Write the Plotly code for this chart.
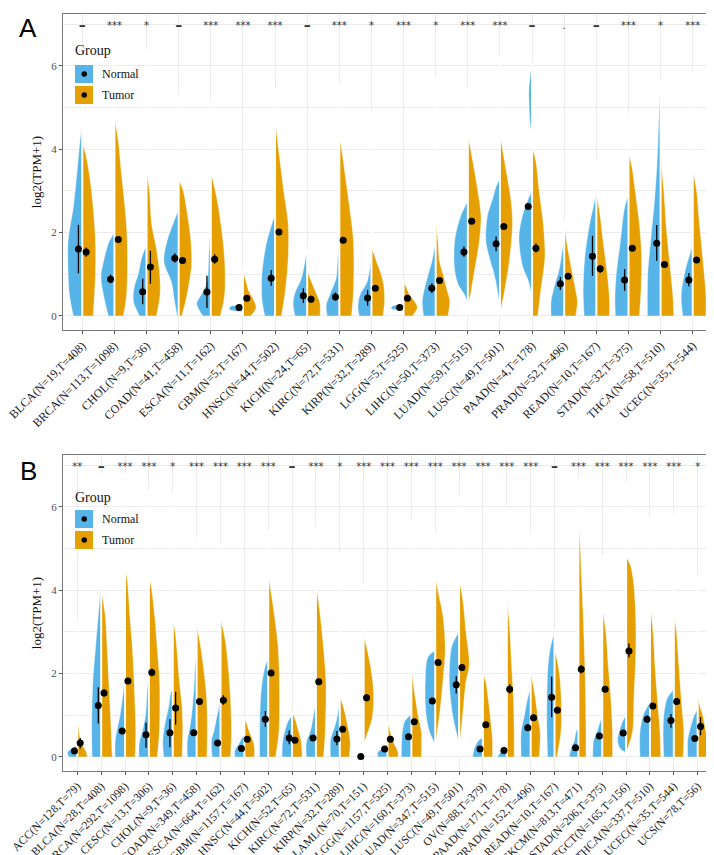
import plotly.graph_objects as go
from plotly.subplots import make_subplots

BLUE = "#56B4E9"
ORANGE = "#E69F00"
SERIF = "Liberation Serif, Times New Roman, serif"

# ---------------- Panel A data ----------------
A_labels = ["BLCA(N=19,T=408)", "BRCA(N=113,T=1098)", "CHOL(N=9,T=36)", "COAD(N=41,T=458)",
            "ESCA(N=11,T=162)", "GBM(N=5,T=167)", "HNSC(N=44,T=502)", "KICH(N=24,T=65)",
            "KIRC(N=72,T=531)", "KIRP(N=32,T=289)", "LGG(N=5,T=525)", "LIHC(N=50,T=373)",
            "LUAD(N=59,T=515)", "LUSC(N=49,T=501)", "PAAD(N=4,T=178)", "PRAD(N=52,T=496)",
            "READ(N=10,T=167)", "STAD(N=32,T=375)", "THCA(N=58,T=510)", "UCEC(N=35,T=544)"]
A_sig = ["−", "***", "*", "−", "***", "***", "***", "−", "***", "*",
         "***", "*", "***", "***", "−", ".", "−", "***", "*", "***"]
A_normal_mean = [1.60, 0.88, 0.58, 1.38, 0.57, 0.20, 0.90, 0.48, 0.45, 0.43, 0.20, 0.66, 1.53, 1.73, 2.62, 0.77, 1.43, 0.86, 1.74, 0.86]
A_normal_lo = [1.02, 0.78, 0.28, 1.28, 0.19, 0.18, 0.72, 0.31, 0.36, 0.24, 0.18, 0.55, 1.42, 1.55, 2.62, 0.62, 0.96, 0.60, 1.32, 0.71]
A_normal_hi = [2.18, 0.99, 0.89, 1.50, 0.96, 0.22, 1.10, 0.66, 0.56, 0.62, 0.22, 0.78, 1.66, 1.90, 2.62, 0.93, 1.92, 1.12, 2.18, 1.03]
A_tumor_mean = [1.53, 1.83, 1.17, 1.33, 1.36, 0.42, 2.01, 0.40, 1.81, 0.66, 0.42, 0.85, 2.27, 2.14, 1.62, 0.95, 1.13, 1.62, 1.23, 1.34]
A_tumor_lo = [1.42, 1.78, 0.77, 1.27, 1.25, 0.38, 1.94, 0.32, 1.74, 0.60, 0.38, 0.78, 2.20, 2.06, 1.52, 0.90, 1.03, 1.56, 1.16, 1.27]
A_tumor_hi = [1.64, 1.88, 1.56, 1.39, 1.48, 0.46, 2.08, 0.48, 1.88, 0.72, 0.46, 0.92, 2.34, 2.22, 1.74, 0.99, 1.22, 1.70, 1.30, 1.41]
# density profiles: (log2(TPM+1), half width)
A_normal_shape = [
    [(0, 0.28), (0.5, 0.40), (1.0, 0.44), (1.8, 0.44), (2.6, 0.28), (3.4, 0.17), (4.2, 0.07), (4.6, 0)],
    [(0, 0.19), (0.5, 0.34), (0.95, 0.42), (1.3, 0.34), (1.75, 0.18), (2.0, 0)],
    [(0, 0.22), (0.35, 0.41), (0.7, 0.38), (1.0, 0.26), (1.4, 0.15), (1.7, 0)],
    [(0, 0.05), (0.4, 0.14), (0.8, 0.22), (1.3, 0.46), (1.8, 0.36), (2.2, 0.18), (2.55, 0)],
    [(0, 0.25), (0.3, 0.44), (0.5, 0.30), (0.8, 0.12), (1.5, 0.06), (2.2, 0)],
    [(0.10, 0), (0.15, 0.42), (0.22, 0.40), (0.28, 0)],
    [(0, 0.32), (0.4, 0.41), (1.0, 0.41), (1.7, 0.28), (2.2, 0.10), (2.45, 0)],
    [(0, 0.38), (0.3, 0.44), (0.55, 0.38), (0.9, 0.18), (1.3, 0.07), (1.6, 0)],
    [(0, 0.38), (0.25, 0.41), (0.5, 0.30), (0.9, 0.10), (1.4, 0.05), (1.7, 0)],
    [(0, 0.38), (0.2, 0.42), (0.5, 0.36), (0.8, 0.14), (1.1, 0.06), (1.4, 0)],
    [(0.14, 0), (0.17, 0.38), (0.23, 0.36), (0.28, 0)],
    [(0, 0.38), (0.35, 0.42), (0.55, 0.38), (1.0, 0.23), (1.3, 0.12), (1.8, 0)],
    [(0.3, 0), (0.5, 0.10), (0.75, 0.30), (1.1, 0.41), (1.8, 0.41), (2.4, 0.22), (2.75, 0)],
    [(0.2, 0), (0.7, 0.10), (1.0, 0.18), (1.4, 0.33), (1.8, 0.44), (2.4, 0.39), (2.8, 0.23), (3.1, 0.12), (3.3, 0)],
    [(0.4, 0), (0.8, 0.10), (1.2, 0.30), (1.9, 0.41), (2.4, 0.30), (2.8, 0.12), (3.0, 0.02), (4.3, 0), (4.6, 0.06), (5.4, 0.10), (5.8, 0.05), (6.05, 0)],
    [(0, 0.41), (0.35, 0.41), (0.7, 0.31), (1.1, 0.16), (1.6, 0.05), (1.8, 0)],
    [(0, 0.38), (0.6, 0.41), (1.4, 0.36), (2.2, 0.21), (2.7, 0.07), (3.0, 0)],
    [(0, 0.41), (0.5, 0.42), (1.0, 0.38), (1.8, 0.25), (2.6, 0.12), (2.9, 0)],
    [(0, 0.41), (1.0, 0.40), (1.8, 0.31), (2.6, 0.21), (3.4, 0.13), (4.2, 0.08), (5.0, 0.04), (5.55, 0)],
    [(0, 0.31), (0.5, 0.36), (1.1, 0.23), (1.5, 0.08), (1.7, 0)],
]
A_tumor_shape = [
    [(0, 0.34), (1.0, 0.41), (1.8, 0.41), (2.6, 0.34), (3.4, 0.22), (3.9, 0.10), (4.15, 0)],
    [(0, 0.28), (0.5, 0.38), (1.8, 0.40), (2.6, 0.33), (3.4, 0.22), (4.2, 0.12), (4.75, 0)],
    [(0, 0.31), (0.5, 0.42), (1.0, 0.41), (1.6, 0.31), (2.2, 0.16), (3.0, 0.09), (3.47, 0)],
    [(0, 0.10), (0.5, 0.26), (1.2, 0.40), (1.8, 0.38), (2.5, 0.26), (3.0, 0.14), (3.27, 0)],
    [(0, 0.30), (0.5, 0.43), (1.2, 0.44), (1.8, 0.38), (2.6, 0.24), (3.0, 0.14), (3.45, 0)],
    [(0, 0.25), (0.2, 0.41), (0.4, 0.32), (0.6, 0.18), (0.9, 0.07), (1.07, 0)],
    [(0, 0.20), (0.6, 0.32), (1.4, 0.41), (2.2, 0.41), (3.0, 0.27), (3.8, 0.14), (4.7, 0)],
    [(0, 0.40), (0.3, 0.40), (0.55, 0.28), (0.8, 0.14), (1.1, 0)],
    [(0, 0.38), (0.6, 0.44), (1.8, 0.44), (2.6, 0.32), (3.4, 0.18), (4.0, 0.07), (4.3, 0)],
    [(0, 0.36), (0.35, 0.41), (0.75, 0.38), (1.0, 0.30), (1.3, 0.16), (1.65, 0)],
    [(0, 0.28), (0.2, 0.43), (0.35, 0.34), (0.5, 0.19), (0.7, 0.08), (0.82, 0)],
    [(0, 0.38), (0.35, 0.44), (0.6, 0.36), (1.0, 0.23), (1.3, 0.12), (1.8, 0.07), (2.3, 0)],
    [(0.25, 0), (0.5, 0.08), (1.0, 0.19), (1.8, 0.36), (2.4, 0.41), (3.0, 0.31), (3.6, 0.18), (4.35, 0)],
    [(0.05, 0), (0.5, 0.12), (1.3, 0.29), (2.2, 0.39), (2.8, 0.34), (3.5, 0.19), (4.35, 0)],
    [(0, 0.18), (0.6, 0.27), (1.4, 0.40), (2.2, 0.35), (3.0, 0.22), (3.7, 0.12), (4.05, 0)],
    [(0, 0.36), (0.35, 0.41), (0.6, 0.36), (1.0, 0.26), (1.4, 0.16), (1.8, 0.07), (2.3, 0)],
    [(0, 0.41), (0.4, 0.41), (1.0, 0.34), (1.8, 0.21), (2.5, 0.10), (2.95, 0)],
    [(0, 0.34), (0.6, 0.39), (1.4, 0.41), (2.2, 0.34), (3.0, 0.21), (3.6, 0.10), (3.9, 0)],
    [(0, 0.41), (0.5, 0.38), (1.3, 0.28), (2.1, 0.18), (3.0, 0.10), (3.8, 0)],
    [(0, 0.41), (0.5, 0.41), (1.4, 0.31), (2.2, 0.21), (3.0, 0.12), (3.5, 0)],
]
A_tail = [6.5, 6.9, 6.4, 5.3, 5.15, 1.1, 5.47, 1.6, 5.55, 4.9, 0.85, 5.7, 5.43, 6.23, 6.07, 2.3, 3.75, 4.87, 5.67, 5.87]

# ---------------- Panel B data ----------------
B_labels = ["ACC(N=128,T=79)", "BLCA(N=28,T=408)", "BRCA(N=292,T=1098)", "CESC(N=13,T=306)",
            "CHOL(N=9,T=36)", "COAD(N=349,T=458)", "ESCA(N=664,T=162)", "GBM(N=1157,T=167)",
            "HNSC(N=44,T=502)", "KICH(N=52,T=65)", "KIRC(N=72,T=531)", "KIRP(N=32,T=289)",
            "LAML(N=70,T=151)", "LGG(N=1157,T=525)", "LIHC(N=160,T=373)", "LUAD(N=347,T=515)",
            "LUSC(N=49,T=501)", "OV(N=88,T=379)", "PAAD(N=171,T=178)", "PRAD(N=152,T=496)",
            "READ(N=10,T=167)", "SKCM(N=813,T=471)", "STAD(N=206,T=375)", "TGCT(N=165,T=156)",
            "THCA(N=337,T=510)", "UCEC(N=35,T=544)", "UCS(N=78,T=56)"]
B_sig = ["**", "−", "***", "***", "*", "***", "***", "***", "***", "−", "***", "*", "***", "***",
         "***", "***", "***", "***", "***", "***", "−", "***", "***", "***", "***", "***", "*"]
B_normal_mean = [0.14, 1.23, 0.62, 0.53, 0.58, 0.58, 0.33, 0.20, 0.90, 0.45, 0.45, 0.43, 0.01, 0.19, 0.48, 1.34, 1.73, 0.19, 0.15, 0.70, 1.43, 0.22, 0.50, 0.57, 0.90, 0.87, 0.44]
B_normal_lo = [0.11, 0.80, 0.59, 0.22, 0.23, 0.55, 0.30, 0.18, 0.72, 0.30, 0.38, 0.28, 0.00, 0.17, 0.45, 1.30, 1.52, 0.17, 0.13, 0.62, 0.95, 0.20, 0.47, 0.54, 0.82, 0.70, 0.40]
B_normal_hi = [0.17, 1.67, 0.65, 0.82, 0.90, 0.61, 0.36, 0.22, 1.10, 0.63, 0.52, 0.62, 0.02, 0.21, 0.51, 1.38, 1.93, 0.21, 0.17, 0.78, 1.92, 0.24, 0.53, 0.60, 1.00, 1.03, 0.48]
B_tumor_mean = [0.33, 1.53, 1.82, 2.02, 1.17, 1.33, 1.36, 0.42, 2.01, 0.40, 1.80, 0.66, 1.42, 0.42, 0.84, 2.26, 2.14, 0.77, 1.62, 0.94, 1.12, 2.10, 1.62, 2.54, 1.22, 1.33, 0.73]
B_tumor_lo = [0.20, 1.45, 1.77, 1.93, 0.77, 1.28, 1.25, 0.39, 1.94, 0.33, 1.74, 0.61, 1.33, 0.39, 0.78, 2.21, 2.09, 0.73, 1.52, 0.89, 1.05, 2.00, 1.56, 2.38, 1.16, 1.27, 0.52]
B_tumor_hi = [0.45, 1.62, 1.87, 2.12, 1.56, 1.38, 1.48, 0.45, 2.08, 0.47, 1.86, 0.71, 1.50, 0.45, 0.90, 2.31, 2.19, 0.81, 1.74, 0.99, 1.20, 2.20, 1.68, 2.72, 1.28, 1.39, 0.95]
B_normal_shape = [
    [(0, 0.35), (0.1, 0.42), (0.2, 0.25), (0.28, 0)],
    [(0, 0.38), (0.6, 0.40), (1.8, 0.35), (2.6, 0.24), (3.4, 0.12), (4.25, 0)],
    [(0, 0.42), (0.4, 0.41), (0.6, 0.35), (1.0, 0.21), (1.4, 0.11), (1.9, 0)],
    [(0, 0.42), (0.35, 0.40), (0.6, 0.28), (1.0, 0.14), (1.6, 0.07), (2.0, 0)],
    [(0, 0.38), (0.4, 0.42), (0.85, 0.31), (1.2, 0.17), (1.5, 0.10), (1.65, 0)],
    [(0, 0.39), (0.4, 0.39), (0.6, 0.32), (1.0, 0.21), (1.65, 0.11), (2.2, 0.06), (2.45, 0)],
    [(0, 0.35), (0.4, 0.38), (0.6, 0.28), (1.0, 0.14), (1.35, 0)],
    [(0, 0.40), (0.15, 0.40), (0.3, 0.24), (0.45, 0.10), (0.55, 0)],
    [(0, 0.36), (0.6, 0.36), (1.4, 0.32), (1.8, 0.25), (2.2, 0.11), (2.35, 0)],
    [(0, 0.42), (0.35, 0.40), (0.6, 0.31), (0.85, 0.17), (1.0, 0)],
    [(0, 0.40), (0.35, 0.40), (0.6, 0.24), (1.0, 0.10), (1.35, 0)],
    [(0, 0.39), (0.4, 0.39), (0.6, 0.29), (0.85, 0.15), (1.35, 0)],
    [],
    [(0, 0.40), (0.1, 0.42), (0.2, 0.22), (0.3, 0)],
    [(0, 0.42), (0.6, 0.38), (0.85, 0.28), (0.95, 0.14), (1.02, 0)],
    [(0.3, 0), (0.6, 0.24), (1.0, 0.38), (1.8, 0.42), (2.4, 0.30), (2.55, 0)],
    [(0.3, 0), (0.6, 0.12), (1.0, 0.27), (1.8, 0.41), (2.6, 0.33), (2.8, 0.20), (3.0, 0)],
    [(0, 0.43), (0.2, 0.36), (0.38, 0.20), (0.47, 0)],
    [(0, 0.39), (0.1, 0.28), (0.2, 0.11), (0.27, 0)],
    [(0, 0.40), (0.6, 0.40), (1.0, 0.26), (1.4, 0.13), (1.65, 0)],
    [(0, 0.29), (0.6, 0.32), (1.4, 0.32), (2.2, 0.27), (2.6, 0.18), (3.0, 0)],
    [(0, 0.38), (0.2, 0.31), (0.38, 0.17), (0.6, 0.10), (0.7, 0)],
    [(0, 0.40), (0.4, 0.36), (0.6, 0.22), (0.85, 0.08), (0.95, 0)],
    [(0.1, 0), (0.2, 0.25), (0.4, 0.36), (0.6, 0.29), (0.85, 0.15), (1.0, 0)],
    [(0, 0.42), (0.6, 0.42), (1.0, 0.28), (1.2, 0.11), (1.3, 0)],
    [(0, 0.42), (0.6, 0.45), (1.0, 0.42), (1.4, 0.28), (1.62, 0)],
    [(0, 0.42), (0.4, 0.42), (0.6, 0.35), (1.0, 0.14), (1.15, 0)],
]
B_tumor_shape = [
    [(0, 0.42), (0.15, 0.35), (0.3, 0.18), (0.5, 0.10), (0.94, 0)],
    [(0, 0.46), (1.0, 0.39), (1.8, 0.32), (2.6, 0.25), (3.4, 0.17), (4.0, 0)],
    [(0, 0.42), (0.6, 0.45), (1.8, 0.38), (2.6, 0.31), (3.4, 0.20), (4.2, 0.10), (4.53, 0)],
    [(0, 0.35), (0.6, 0.44), (1.8, 0.45), (2.6, 0.35), (3.4, 0.24), (4.0, 0.12), (4.33, 0)],
    [(0, 0.39), (0.6, 0.42), (1.2, 0.39), (1.8, 0.28), (2.6, 0.17), (3.0, 0.10), (3.33, 0)],
    [(0, 0.43), (0.7, 0.45), (1.4, 0.42), (2.0, 0.32), (2.6, 0.18), (3.2, 0)],
    [(0, 0.42), (0.6, 0.46), (1.4, 0.42), (2.2, 0.32), (2.8, 0.20), (3.33, 0)],
    [(0, 0.42), (0.25, 0.42), (0.45, 0.32), (0.6, 0.21), (0.8, 0.10), (0.94, 0)],
    [(0, 0.31), (0.6, 0.45), (1.8, 0.47), (2.6, 0.42), (3.4, 0.26), (3.8, 0.16), (4.37, 0)],
    [(0, 0.42), (0.35, 0.39), (0.6, 0.28), (0.85, 0.16), (1.1, 0)],
    [(0, 0.32), (0.6, 0.39), (1.8, 0.42), (2.6, 0.32), (3.4, 0.18), (4.17, 0)],
    [(0, 0.40), (0.35, 0.44), (0.6, 0.38), (1.0, 0.24), (1.3, 0.10), (1.45, 0)],
    [(0.3, 0), (0.5, 0.12), (0.9, 0.35), (1.4, 0.42), (1.8, 0.38), (2.2, 0.28), (2.6, 0.14), (2.9, 0)],
    [(0, 0.45), (0.15, 0.42), (0.3, 0.28), (0.55, 0.14), (0.86, 0)],
    [(0, 0.42), (0.6, 0.42), (1.0, 0.28), (1.4, 0.17), (1.8, 0.07), (2.2, 0)],
    [(0.3, 0), (1.0, 0.18), (1.8, 0.32), (2.6, 0.42), (3.4, 0.32), (3.8, 0.18), (4.3, 0)],
    [(0.2, 0), (1.0, 0.15), (1.8, 0.29), (2.2, 0.43), (3.0, 0.29), (3.8, 0.15), (4.25, 0)],
    [(0, 0.40), (0.4, 0.40), (0.85, 0.33), (1.4, 0.22), (1.8, 0.12), (2.0, 0)],
    [(0, 0.31), (0.6, 0.31), (1.4, 0.28), (2.2, 0.20), (3.0, 0.13), (3.9, 0)],
    [(0, 0.36), (0.6, 0.40), (1.0, 0.29), (1.4, 0.20), (1.8, 0.08), (2.05, 0)],
    [(0, 0.10), (0.6, 0.27), (1.2, 0.29), (1.8, 0.24), (2.2, 0.15), (2.6, 0)],
    [(0, 0.32), (0.6, 0.32), (1.8, 0.29), (2.6, 0.25), (3.4, 0.20), (4.2, 0.14), (5.0, 0.08), (5.68, 0)],
    [(0, 0.43), (0.6, 0.43), (1.4, 0.36), (2.2, 0.25), (3.0, 0.15), (3.57, 0)],
    [(0.1, 0), (0.6, 0.27), (1.4, 0.33), (2.6, 0.41), (3.4, 0.40), (4.2, 0.31), (4.6, 0.18), (4.8, 0)],
    [(0, 0.45), (0.6, 0.42), (1.4, 0.31), (2.2, 0.21), (3.0, 0.13), (3.65, 0)],
    [(0, 0.39), (0.6, 0.42), (1.4, 0.31), (2.2, 0.21), (3.0, 0.11), (3.41, 0)],
    [(0, 0.42), (0.4, 0.42), (0.6, 0.35), (1.0, 0.21), (1.2, 0.10), (1.46, 0)],
]
B_tail = [3.25, 6.8, 6.8, 6.39, 6.36, 5.28, 5.12, 0.95, 5.43, 1.1, 5.52, 4.88, 4.16, 0.86, 5.67,
          5.4, 6.23, 2.0, 6.0, 5.35, 3.0, 6.7, 4.84, 6.59, 5.75, 5.83, 4.36]

SIG_Y = 6.95
DODGE = 0.12

fig = make_subplots(rows=2, cols=1)


def add_half(row, i, prof, sign, color):
    if not prof:
        return
    ys = [p[0] for p in prof]
    ws = [p[1] for p in prof]
    fig.add_trace(go.Scatter(x=[i] * len(ys), y=ys, mode="lines", line=dict(width=0),
                             hoverinfo="skip", showlegend=False), row=row, col=1)
    fig.add_trace(go.Scatter(x=[i + sign * w for w in ws], y=ys, mode="lines",
                             line=dict(color="white", width=0.4, shape="spline", smoothing=0.9),
                             fill="tonextx", fillcolor=color, hoverinfo="skip", showlegend=False),
                  row=row, col=1)


def add_panel(row, labels, sig, nshape, tshape, tail, nm, nlo, nhi, tm, tlo, thi):
    n = len(labels)
    for i in range(n):
        add_half(row, i, nshape[i], -1, BLUE)
        add_half(row, i, tshape[i], 1, ORANGE)
    # white violin outline tails / split line
    xs, ys = [], []
    for i in range(n):
        top = max([tail[i]] + [p[0] for p in nshape[i]] + [p[0] for p in tshape[i]])
        xs += [i, i, None]
        ys += [0, top, None]
    fig.add_trace(go.Scatter(x=xs, y=ys, mode="lines", line=dict(color="white", width=2),
                             hoverinfo="skip", showlegend=False), row=row, col=1)
    for mean, lo, hi, off in ((nm, nlo, nhi, -DODGE), (tm, tlo, thi, DODGE)):
        fig.add_trace(go.Scatter(
            x=[i + off for i in range(n)], y=mean, mode="markers",
            marker=dict(color="black", size=7),
            error_y=dict(type="data", symmetric=False,
                         array=[h - m for h, m in zip(hi, mean)],
                         arrayminus=[m - l for m, l in zip(mean, lo)],
                         color="black", thickness=1.3, width=0),
            showlegend=False, hoverinfo="skip"), row=row, col=1)
    shown = ["<b>–</b>" if s == "−" else s for s in sig]
    sizes = [14 if s == "−" else 10 for s in sig]
    fig.add_trace(go.Scatter(x=list(range(n)), y=[SIG_Y] * n, mode="text", text=shown,
                             textfont=dict(family="DejaVu Sans", size=sizes, color="#333333"),
                             textposition="middle center", showlegend=False, hoverinfo="skip"),
                  row=row, col=1)


add_panel(1, A_labels, A_sig, A_normal_shape, A_tumor_shape, A_tail,
          A_normal_mean, A_normal_lo, A_normal_hi, A_tumor_mean, A_tumor_lo, A_tumor_hi)
add_panel(2, B_labels, B_sig, B_normal_shape, B_tumor_shape, B_tail,
          B_normal_mean, B_normal_lo, B_normal_hi, B_tumor_mean, B_tumor_lo, B_tumor_hi)

W, H = 714, 855
ML, MR, MT, MB = 55, 10, 6, 92
PW, PH = W - ML - MR, H - MT - MB


def px(x):
    return (x - ML) / PW


def py(y):
    return (H - MB - y) / PH


axis_common = dict(showline=True, linecolor="#7a7a7a", linewidth=1, mirror=True,
                   gridcolor="#EBEBEB", gridwidth=1, zeroline=False,
                   ticks="outside", ticklen=3, tickcolor="#555555", automargin=False)

for k, (labels, dom, fs) in enumerate(((A_labels, [py(322), 1.0], 12), (B_labels, [0.0, py(447)], 11.5)), start=1):
    n = len(labels)
    fig.update_xaxes(row=k, col=1, range=[-0.6, n - 0.4], tickmode="array",
                     tickvals=list(range(n)), ticktext=labels, tickangle=-45,
                     ticklabeloverflow="allow",
                     tickfont=dict(family=SERIF, size=fs, color="#1a1a1a"), **axis_common)
    fig.update_yaxes(row=k, col=1, range=[-0.34, 7.24], domain=dom, tickmode="array",
                     tickvals=[0, 2, 4, 6], ticktext=["0", "2", "4", "6"],
                     tickfont=dict(family=SERIF, size=11, color="#4D4D4D"),
                     minor=dict(tickmode="array", tickvals=[1, 3, 5, 7], showgrid=True,
                                gridcolor="#EBEBEB", gridwidth=0.6, ticks=""),
                     title=dict(text="log2(TPM+1)", font=dict(family=SERIF, size=13, color="#111111"),
                                standoff=6),
                     **axis_common)

shapes = []
annotations = []
for (gy, ky1, ky2, lab, ly) in ((42, 57, 78, "A", 20), (489, 502, 523, "B", 463)):
    annotations.append(dict(x=px(20), y=py(ly), xref="paper", yref="paper", text=lab,
                            showarrow=False, font=dict(family="Liberation Sans, Arial, sans-serif", size=26, color="black"),
                            xanchor="center", yanchor="middle"))
    annotations.append(dict(x=px(65), y=py(gy), xref="paper", yref="paper", text="Group",
                            showarrow=False, font=dict(family=SERIF, size=14, color="#111111"),
                            xanchor="left", yanchor="middle"))
    for top, col, name in ((ky1, BLUE, "Normal"), (ky2, ORANGE, "Tumor")):
        shapes.append(dict(type="rect", xref="paper", yref="paper", x0=px(67), x1=px(85),
                           y0=py(top + 18), y1=py(top), fillcolor=col, line=dict(width=0)))
        shapes.append(dict(type="circle", xref="paper", yref="paper", x0=px(73.5), x1=px(79),
                           y0=py(top + 11.8), y1=py(top + 6.3), fillcolor="black", line=dict(width=0)))
        annotations.append(dict(x=px(92), y=py(top + 9), xref="paper", yref="paper", text=name,
                                showarrow=False, font=dict(family=SERIF, size=12, color="#111111"),
                                xanchor="left", yanchor="middle"))

fig.update_layout(width=W, height=H, margin=dict(l=ML, r=MR, t=MT, b=MB),
                  plot_bgcolor="white", paper_bgcolor="white", showlegend=False,
                  font=dict(family=SERIF),
                  shapes=shapes, annotations=annotations)

fig.write_html("out.html")
